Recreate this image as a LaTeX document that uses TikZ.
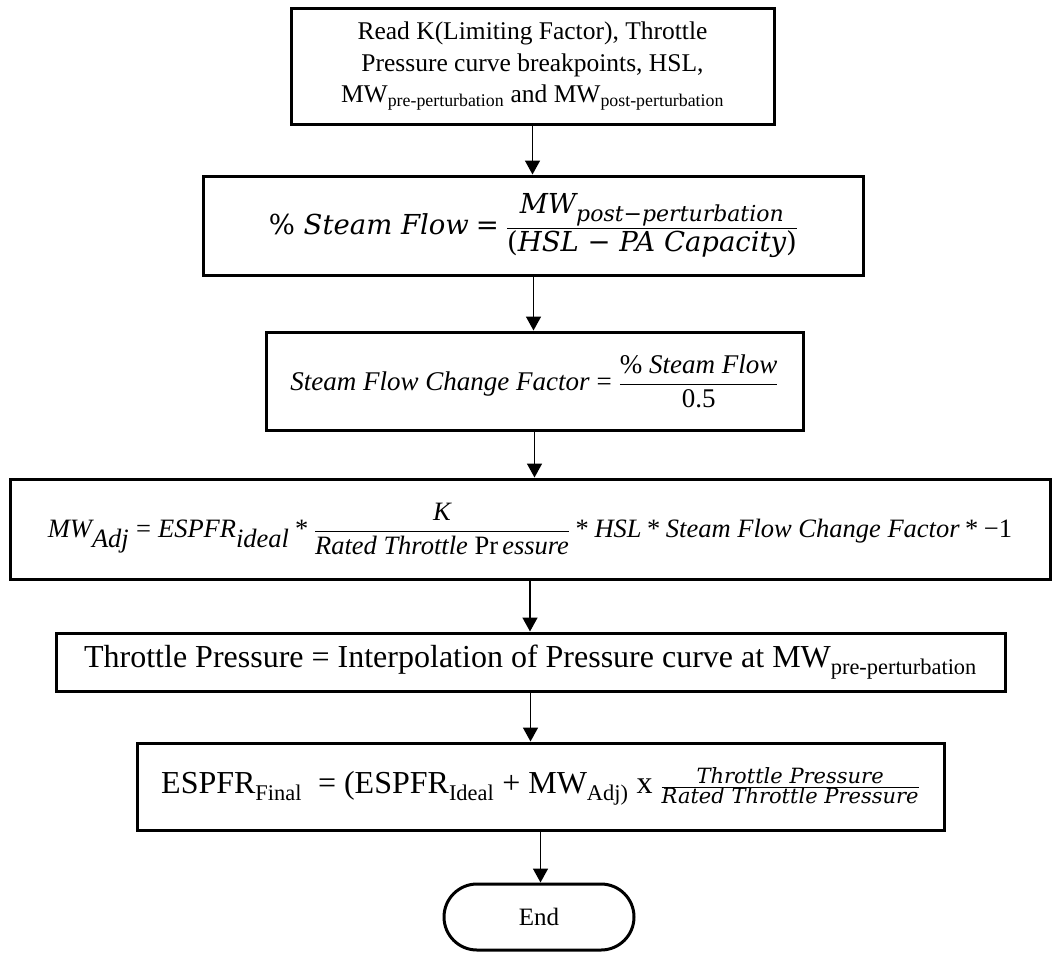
\documentclass[tikz,border=0pt]{standalone}
\usepackage{fontspec}
\setmainfont{Liberation Serif}
\newfontfamily\cambria{DejaVu Serif}
\usetikzlibrary{arrows.meta}
\newcommand\fr{\fontsize{21}{25}\selectfont\cambria\itshape}
\newcommand\csub[1]{\hbox{\fontsize{22}{24}\selectfont\cambria\itshape #1}}
\begin{document}
\begin{tikzpicture}[x=1pt,y=-1pt,
  box/.style={draw, line width=3pt, inner sep=0pt, align=center},
  arr/.style={line width=1.6pt, -{Triangle[length=14pt,width=15pt]}}]
\useasboundingbox (0,0) rectangle (1055,954);
\node[box, minimum width=483pt, minimum height=116pt, font=\fontsize{25.5}{31.5}\selectfont] (b1) at (532.5,66)
 {Read K(Limiting Factor), Throttle\\Pressure curve breakpoints, HSL,\\MW\textsubscript{pre-perturbation} and MW\textsubscript{post-perturbation}};
\node[box, minimum width=660pt, minimum height=99pt, font=\fontsize{27.5}{33}\selectfont\cambria] (b2) at (533.5,225.5)
 {$\displaystyle \textup{\%}\ \textit{Steam Flow} \mathrel{\textup{=}} \frac{\textit{MW}_{\csub{post−perturbation}}}{\textup{(}\textit{HSL}\ \textup{−}\ \textit{PA Capacity}\textup{)}}$};
\node[box, minimum width=537pt, minimum height=98pt, font=\fontsize{27}{33}\selectfont] (b3) at (534.5,381)
 {$\displaystyle \textit{Steam Flow Change Factor} \mathrel{\textup{=}} \frac{\textup{\%}\ \textit{Steam Flow}}{\textup{0.5}}$};
\node[box, minimum width=1040pt, minimum height=100pt, font=\fontsize{26.5}{32}\selectfont] (b4) at (530,529)
 {$\displaystyle \textit{MW}_{\textit{Adj}} \mathrel{\textup{=}} \textit{ESPFR}_{\textit{ideal}} \mathbin{\textup{*}} \frac{\textit{K}}{\textit{Rated Throttle }\textup{Pr}\,\textit{essure}} \mathbin{\textup{*}} \textit{HSL} \mathbin{\textup{*}} \textit{Steam Flow Change Factor} \mathbin{\textup{*}} \textup{−1}$};
\node[box, minimum width=949pt, minimum height=58pt, font=\fontsize{32}{38}\selectfont] (b5) at (530.5,662)
 {Throttle Pressure = Interpolation of Pressure curve at MW\textsubscript{pre-perturbation}};
\node[box, minimum width=807pt, minimum height=87pt, font=\fontsize{32}{38}\selectfont] (b6) at (540.5,786.5)
 {ESPFR\textsubscript{Final}\ \ = (ESPFR\textsubscript{Ideal} + MW\textsubscript{Adj)} x $\frac{\hbox{\fr Throttle Pressure}}{\hbox{\fr Rated Throttle Pressure}}$};
\node[draw, line width=3pt, rounded corners=33pt, minimum width=190pt, minimum height=66pt, font=\fontsize{25}{30}\selectfont] (e) at (539,917) {End};
\draw[arr] (b1.south) -- (b1.south |- b2.north);
\draw[arr] (b2.south) -- (b2.south |- b3.north);
\draw[arr] (b3.south) -- (b3.south |- b4.north);
\draw[arr] (b4.south) -- (b4.south |- b5.north);
\draw[arr] (b5.south) -- (b5.south |- b6.north);
\draw[arr] (b6.south) -- (b6.south |- e.north);
\end{tikzpicture}
\end{document}
